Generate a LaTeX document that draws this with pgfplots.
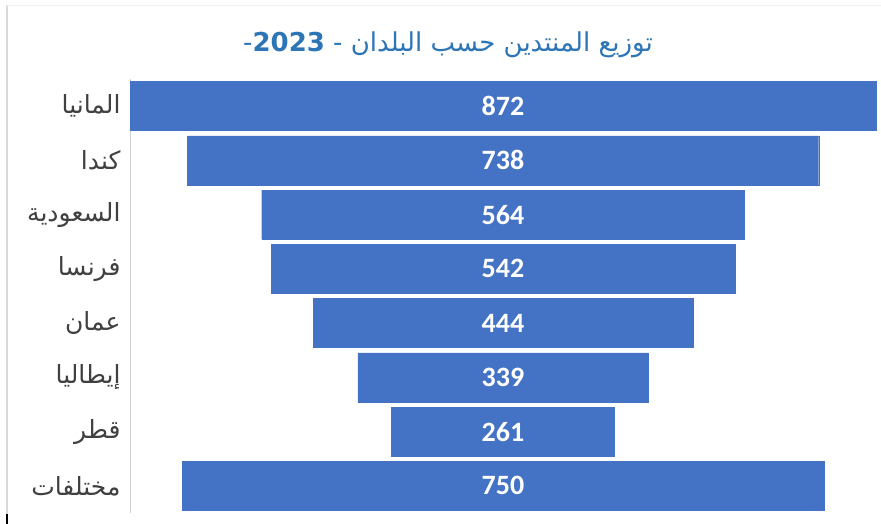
\documentclass[border=0pt]{standalone}
\usepackage{fontspec}
\setmainfont{Carlito}
\newfontfamily\arabicfont[Script=Arabic]{DejaVu Sans}
\usepackage{pgfplots}
\pgfplotsset{compat=1.18}
\usepackage{pgfplotstable}
\TeXXeTstate=1
\definecolor{barblue}{HTML}{4472C4}
\definecolor{titleblue}{HTML}{2E75B6}
\definecolor{labgray}{HTML}{404040}

\pgfplotstableread{
idx v
0 872
1 738
2 564
3 542
4 444
5 339
6 261
7 750
}\funnel

\begin{document}
\begin{tikzpicture}[x=1pt,y=1pt]
\useasboundingbox (0,0) rectangle (881,524);
\draw[gray!30, line width=1.2pt] (7,10) -- (7,519);
\draw[gray!10] (7,519) -- (881,519);
\draw[black, line width=1.5pt] (7,0) -- (7,10);
\coordinate (SW) at (130,11);
\node[titleblue, font=\arabicfont\fontsize{26}{30}\selectfont] at (448,479) {\beginR توزيع المنتدين حسب البلدان - \beginL\textbf{2023}\endL-\endR};
\begin{axis}[at={(SW)}, anchor=south west, scale only axis,
  width=746pt, height=434pt,
  xmin=-436, xmax=436, ymin=-0.5, ymax=7.5, y dir=reverse,
  axis x line=none, axis y line=left,
  y axis line style={draw=gray!35, -},
  ytick={0,...,7},
  yticklabels={{\beginR المانيا\endR},{\beginR كندا\endR},{\beginR السعودية\endR},{\beginR فرنسا\endR},{\beginR عمان\endR},{\beginR إيطاليا\endR},{\beginR قطر\endR},{\beginR مختلفات\endR}},
  major tick length=0pt,
  yticklabel style={labgray, font=\arabicfont\fontsize{25}{28}\selectfont, xshift=-6pt},
  clip=false]
\addplot[xbar, bar shift=0pt, bar width=49pt, fill=barblue, draw=barblue, line width=0.3pt]
  table[x expr=\thisrow{v}/2, y=idx] {\funnel};
\addplot[xbar, bar shift=0pt, bar width=49pt, fill=barblue, draw=barblue, line width=0.3pt]
  table[x expr=-\thisrow{v}/2, y=idx] {\funnel};
\addplot[draw=none, mark=none, nodes near coords, point meta=explicit symbolic,
  nodes near coords style={white, font=\bfseries\fontsize{28}{32}\selectfont, anchor=center}]
  table[x expr=0, y=idx, meta=v] {\funnel};
\end{axis}
\end{tikzpicture}
\end{document}
